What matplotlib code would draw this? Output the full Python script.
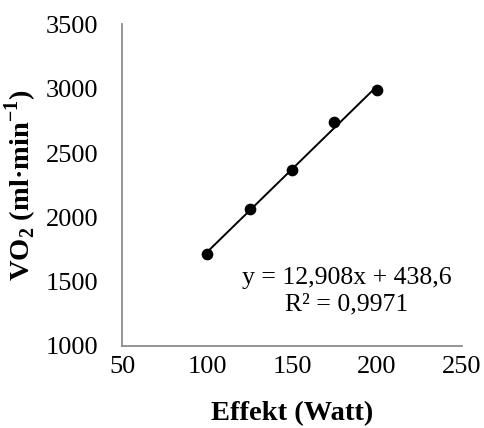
import numpy as np
import matplotlib
matplotlib.use("Agg")
import matplotlib.pyplot as plt

plt.rcParams['font.family'] = ['Liberation Serif', 'DejaVu Serif']
plt.rcParams['mathtext.fontset'] = 'custom'
plt.rcParams['mathtext.rm'] = 'Liberation Serif'
plt.rcParams['mathtext.bf'] = 'Liberation Serif:bold'

# data
effekt = np.array([100, 125, 150, 175, 200])
vo2 = np.array([1712, 2068, 2366, 2738, 2990])
xticks = [50, 100, 150, 200, 250]
yticks = [1000, 1500, 2000, 2500, 3000, 3500]
eq_text = "y = 12,908x + 438,6\nR² = 0,9971"

grey = "#8c8c8c"

fig = plt.figure(figsize=(4.84, 4.28), dpi=100)
ax = fig.add_axes([0.2521, 0.1916, 0.7024, 0.7512])

# trendline
k, m = np.polyfit(effekt, vo2, 1)
xs = np.array([effekt.min(), effekt.max()])
ax.plot(xs, k * xs + m, color="black", lw=1.4, zorder=2)
ax.plot(effekt, vo2, "o", color="black", ms=7.4, zorder=3)

ax.set_xlim(50, 250)
ax.set_ylim(1000, 3500)
ax.set_xticks(xticks)
ax.set_yticks(yticks)
ax.set_yticks([1000, 3500], minor=True)
ax.tick_params(axis="both", which="major", length=0, labelsize=19)
ax.tick_params(axis="y", which="minor", length=7, width=1.3, color=grey)
ax.tick_params(axis="y", which="major", pad=17)
ax.tick_params(axis="x", which="major", pad=7)

for s in ["top", "right"]:
    ax.spines[s].set_visible(False)
for s in ["left", "bottom"]:
    ax.spines[s].set_color(grey)
    ax.spines[s].set_linewidth(1.3)

ax.set_xlabel("Effekt (Watt)", fontsize=20.5, fontweight="bold", labelpad=17)
ax.set_ylabel(r"VO$_\mathbf{2}$ (ml·min$^{\mathbf{-1}}$)", fontsize=20.5,
              fontweight="bold", labelpad=5)

ax.text(182.4, 1425, eq_text, fontsize=18.5, ha="center", va="center",
        linespacing=1.25)

fig.savefig("out.png", dpi=100)
